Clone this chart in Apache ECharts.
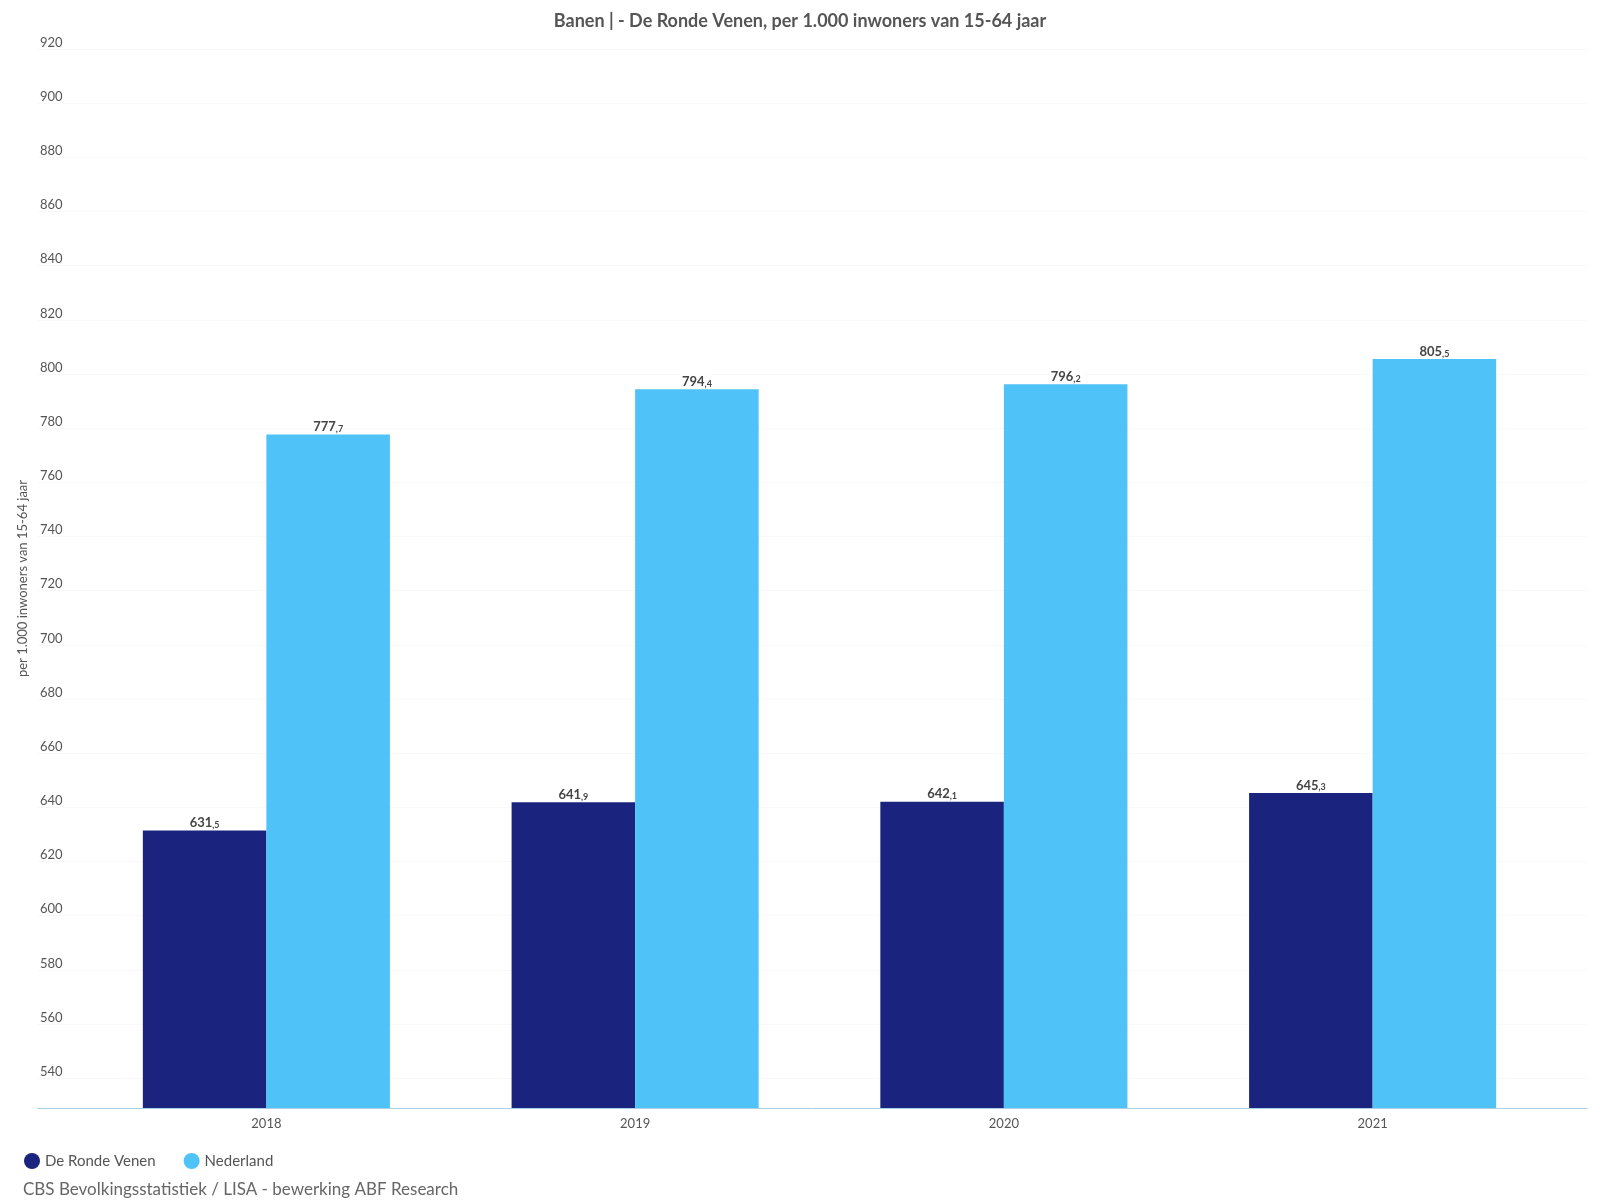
<!DOCTYPE html>
<html>
<head>
<meta charset="utf-8">
<script src="https://cdn.jsdelivr.net/npm/echarts@6/dist/echarts.min.js"></script>
<style>html,body{margin:0;padding:0;background:#fff}#c{width:1600px;height:1200px}</style>
</head>
<body>
<div id="c"></div>
<script>
const years = ['2018', '2019', '2020', '2021'];
const rondeVenen = [631.5, 641.9, 642.1, 645.3];
const nederland = [777.7, 794.4, 796.2, 805.5];
const seriesNames = ['De Ronde Venen', 'Nederland'];
const titleText = 'Banen | - De Ronde Venen, per 1.000 inwoners van 15-64 jaar';
const yAxisName = 'per 1.000 inwoners van 15-64 jaar';
const sourceText = 'CBS Bevolkingsstatistiek / LISA - bewerking ABF Research';
const yMin = 529, yMax = 920;

const FONT = 'Lato';
const chart = echarts.init(document.getElementById('c'), null, {renderer: 'canvas'});

function fmt(p) {
  const s = p.value.toFixed(1).split('.');
  return '{a|' + s[0] + '}{b|,' + s[1] + '}';
}
const labelCfg = {
  show: true, position: 'top', distance: 1,
  formatter: fmt,
  backgroundColor: 'rgba(255,255,255,0.85)',
  padding: [1, 2, 0, 2],
  rich: {
    a: {fontFamily: FONT, fontWeight: 'bold', fontSize: 13, color: '#444'},
    b: {fontFamily: FONT, fontWeight: 'bold', fontSize: 9, color: '#444', verticalAlign: 'bottom', padding: [3, 0, 0, 0]}
  }
};

chart.setOption({
  animation: false,
  textStyle: {fontFamily: FONT},
  title: [
    {text: titleText, left: 'center', top: 7,
     textStyle: {fontFamily: FONT, fontSize: 18, fontWeight: 'bold', color: '#555'}},
    {text: sourceText, left: 18, top: 1176,
     textStyle: {fontFamily: FONT, fontSize: 17, fontWeight: 'normal', color: '#666'}}
  ],
  legend: {
    left: 19, top: 1148, icon: 'circle', itemWidth: 16, itemHeight: 16, itemGap: 28,
    textStyle: {fontFamily: FONT, fontSize: 15, color: '#555'},
    data: seriesNames
  },
  grid: [
    {left: 38, right: 13, top: 49, bottom: 92},
    {left: 82, right: 43, top: 49, bottom: 92}
  ],
  xAxis: [
    {gridIndex: 0, type: 'category', data: [''],
     axisLine: {show: true, lineStyle: {color: '#a9d0e6', width: 1}},
     axisTick: {show: false}, axisLabel: {show: false}},
    {gridIndex: 1, type: 'category', data: years,
     axisLine: {show: false}, axisTick: {show: false},
     axisLabel: {fontFamily: FONT, fontSize: 13, color: '#555', margin: 9}}
  ],
  yAxis: [
    {gridIndex: 0, type: 'value', min: yMin, max: yMax, splitNumber: 19, minInterval: 20, maxInterval: 20,
     name: yAxisName, nameLocation: 'middle', nameGap: 4,
     nameTextStyle: {fontFamily: FONT, fontSize: 13, color: '#555'},
     axisLine: {show: false}, axisTick: {show: false},
     axisLabel: {inside: true, margin: 2, verticalAlign: 'bottom', showMinLabel: false,
                 fontFamily: FONT, fontSize: 13, color: '#555'},
     splitLine: {show: true, lineStyle: {color: '#f8f8f8', width: 1}}},
    {gridIndex: 1, type: 'value', min: yMin, max: yMax, show: false, splitLine: {show: false}}
  ],
  series: [
    {name: seriesNames[0], type: 'bar', xAxisIndex: 1, yAxisIndex: 1, data: rondeVenen,
     itemStyle: {color: '#1a237e'}, barGap: '0%', barCategoryGap: '33%', label: labelCfg},
    {name: seriesNames[1], type: 'bar', xAxisIndex: 1, yAxisIndex: 1, data: nederland,
     itemStyle: {color: '#4fc3f7'}, barGap: '0%', barCategoryGap: '33%', label: labelCfg}
  ]
});
</script>
</body>
</html>
